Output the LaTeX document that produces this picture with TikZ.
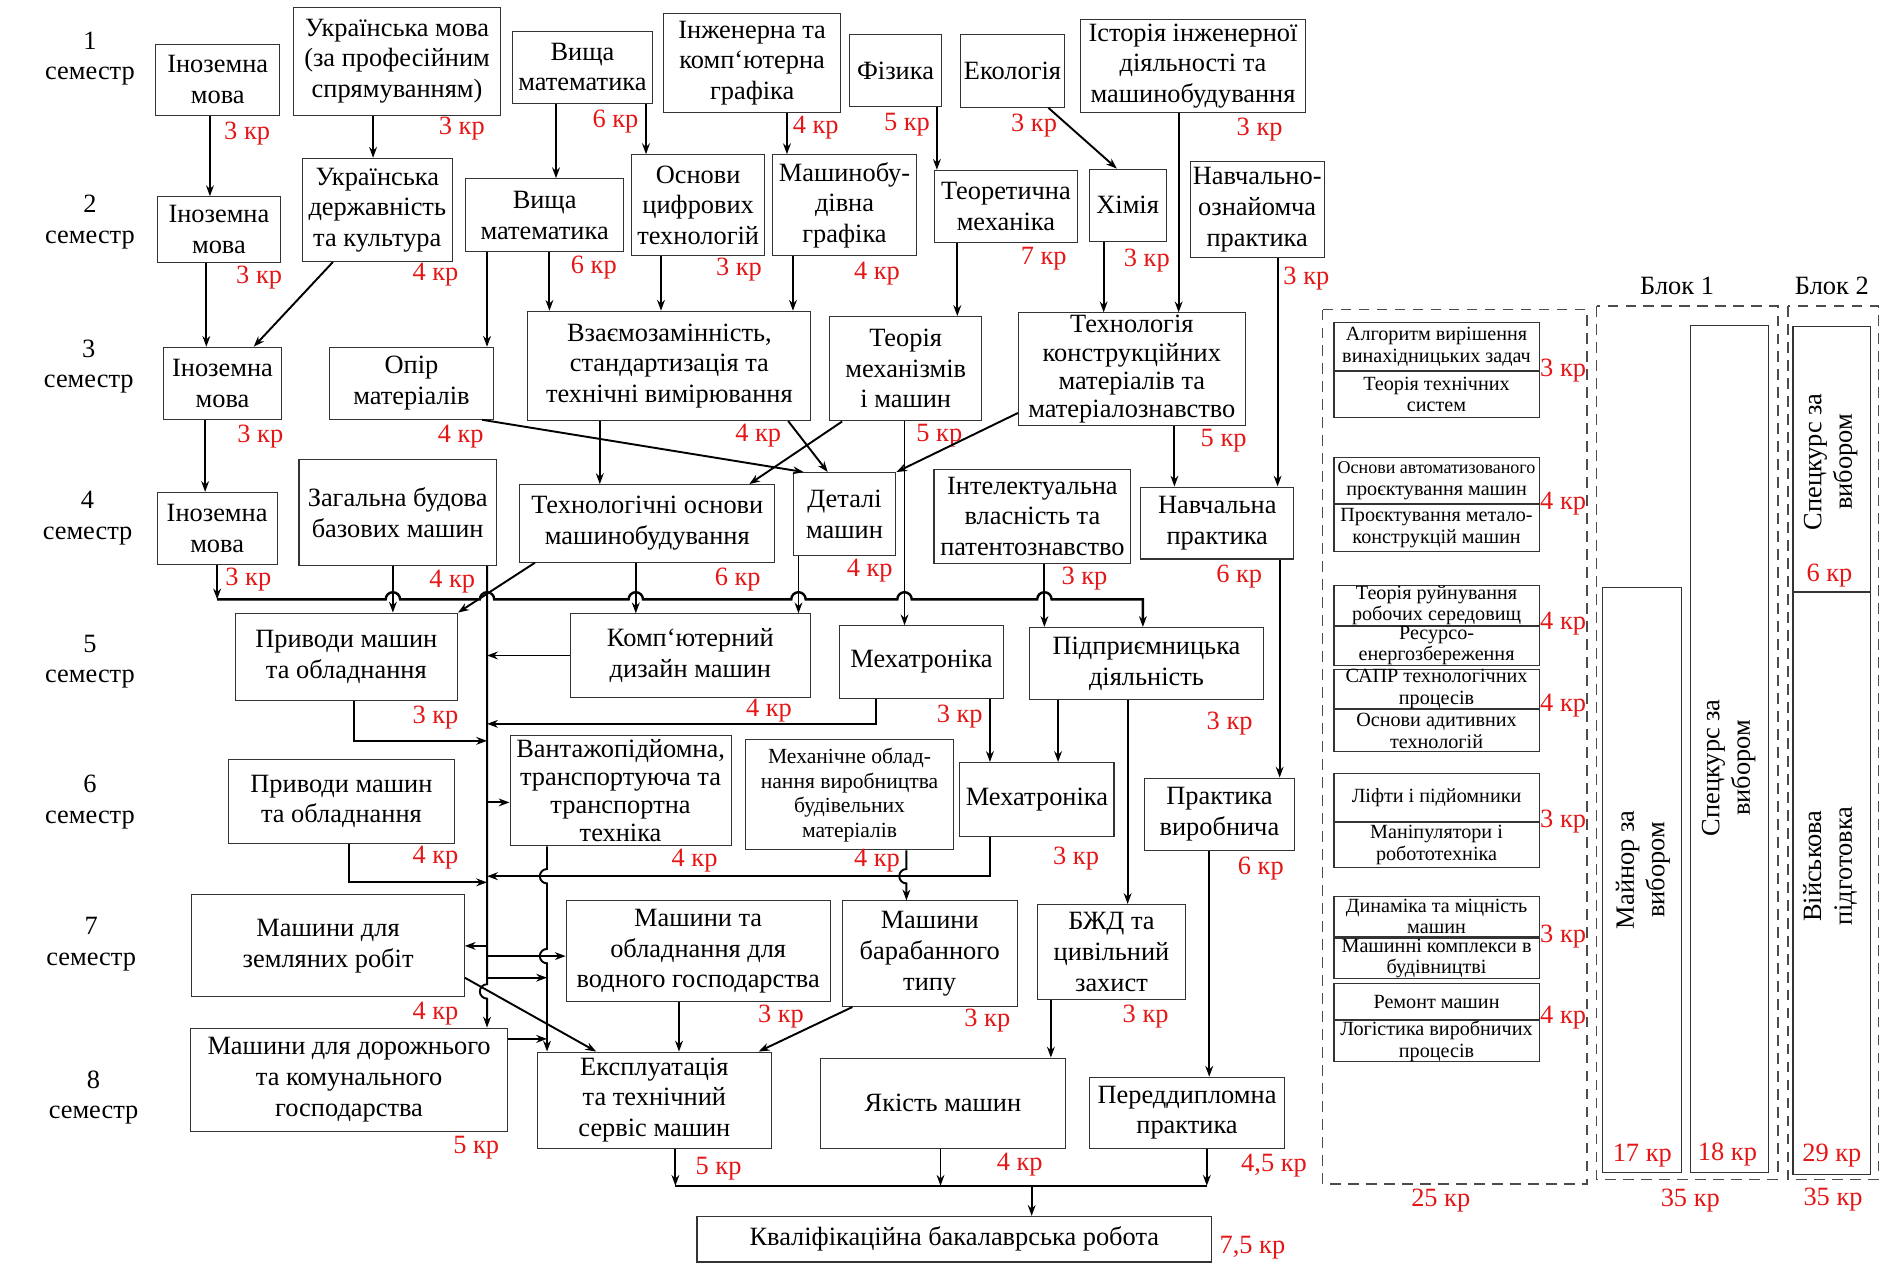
\documentclass[tikz,border=0pt]{standalone}
\usepackage{fontspec}
\setmainfont{Liberation Serif}
\usepackage{xcolor}
\usetikzlibrary{positioning,arrows.meta,calc}
\definecolor{krred}{RGB}{228,22,22}

\begin{document}
\begin{tikzpicture}[x=1pt, y=-1pt, >={Stealth[length=9pt,width=6.5pt]},
  font=\fontsize{22}{25.5}\selectfont,
  subj/.style={draw=black!80, line width=0.9pt, align=center, inner sep=0pt},
  elec/.style={draw=black!80, line width=0.9pt, align=center, inner sep=0pt, minimum width=171, font=\fontsize{16.8}{18}\selectfont},
  kr/.style={text=krred, inner sep=0pt},
  sem/.style={align=center, inner sep=0pt},
  link/.style={->, line width=1.6pt},
  bus/.style={line width=2pt},
  blk/.style={draw=black!70, line width=1.1pt, dash pattern=on 9pt off 6pt}]
\useasboundingbox (0,0) rectangle (1568,1053);

% semesters
\foreach \s/\x/\y in {1/75/49, 2/75/185, 3/74/305.5, 4/73/432, 5/75/551.5, 6/75/668.6, 7/76/787, 8/78/915}
  \node[sem] (s\s) at (\x,\y) {\s\\семестр};

% subjects: name/x/y/width/height/text
\foreach \n/\x/\y/\w/\h/\txt in {in1/181.5/66.5/103/59/{Іноземна\\мова},
  ukrm/331/51/172/90/{Українська мова\\(за професійним\\спрямуванням)},
  vm1/485.5/56/117/60/{Вища\\математика},
  graf/627/52.5/148/82/{Інженерна та\\комп`ютерна\\графіка},
  phys/746.5/59/77/60/{Фізика},
  ekol/844/59/87/61/{Екологія},
  hist/994.5/55/188/77/{Історія інженерної\\діяльності та\\машинобудування},
  in2/182.5/191.5/103/55/{Іноземна\\мова},
  ukrd/314.5/175/125/86/{Українська\\державність\\та культура},
  vm2/454/179.5/132/61/{Вища\\математика},
  osn/582/171/111/84/{Основи\\цифрових\\технологій},
  mgraf/704/171/120/84/{Машинобу-\\дівна\\графіка},
  teor/838.5/172/119/60/{Теоретична\\механіка},
  chem/940/171/64/60/{Хімія},
  navoz/1048/174.7/111.5/80/{Навчально-\\ознайомча\\практика},
  in3/185.5/319.5/99/60/{Іноземна\\мова},
  opir/343/319.5/136/60/{Опір\\матеріалів},
  vzaem/558/305/236/91/{Взаємозамінність,\\стандартизація та\\технічні вимірювання},
  tmm/755/307.4/127/87/{Теорія\\механізмів\\і машин},
  in4/181/440.5/100/60/{Іноземна\\мова},
  zag/331.5/427.4/164.5/88/{Загальна будова\\базових машин},
  tosn/539.6/436.3/212.4/64.6/{Технологічні основи\\машинобудування},
  det/704/428.6/85.5/69.3/{Деталі\\машин},
  intel/860.6/430.2/164/78.4/{Інтелектуальна\\власність та\\патентознавство},
  navp/1014.7/436/127.4/60/{Навчальна\\практика},
  pr5/288.7/547.6/185.3/73/{Приводи машин\\та обладнання},
  komp/575.5/546.4/200/69.4/{Комп`ютерний\\дизайн машин},
  mech5/768.2/551.8/137/60.3/{Мехатроніка},
  pidpr/955.7/553.2/194.6/60.3/{Підприємницька\\діяльність},
  pr6/284.6/667.9/188.2/70.3/{Приводи машин\\та обладнання},
  mech6/864.4/666.3/128.4/61.3/{Мехатроніка},
  prv/1016.5/678.8/125.4/60.4/{Практика\\виробнича},
  zeml/273.5/788.5/227/85/{Машини для\\земляних робіт},
  vodn/582/793/220/84/{Машини та\\обладнання для\\водного господарства},
  barab/775/795/146/88/{Машини\\барабанного\\типу},
  bzd/926.5/793.5/123/79/{БЖД та\\цивільний\\захист},
  dor/291/900/264/86/{Машини для дорожнього\\та комунального\\господарства},
  expl/545.5/917/195/80/{Експлуатація\\та технічний\\сервіс машин},
  yak/786/919.5/204/75/{Якість машин},
  pered/989.5/927.5/163/59/{Переддипломна\\практика},
  kval/795.5/1033/429/38/{Кваліфікаційна бакалаврська робота}}
  \node[subj, minimum width=\w, minimum height=\h] (\n) at (\x,\y) {\txt};
\node[subj, minimum width=189, minimum height=94, font=\fontsize{22}{23.5}\selectfont] (tkm) at (943.5,307.8) {Технологія\\конструкційних\\матеріалів та\\матеріалознавство};
\node[subj, minimum width=184.2, minimum height=92.3, font=\fontsize{22}{23.5}\selectfont] (vant) at (517.3,658.9) {Вантажопідйомна,\\транспортуюча та\\транспортна\\техніка};
\node[subj, minimum width=173, minimum height=91.6, font=\fontsize{18}{20.5}\selectfont] (mecho) at (708.2,662.6) {Механічне облад-\\нання виробництва\\будівельних\\матеріалів};

% elective pairs
\foreach \ya/\yd/\yb/\ta/\tb [count=\i] in {269/309/347/{Алгоритм вирішення\\винахідницьких задач}/{Теорія технічних\\систем},
  381/420/459/{{\fontsize{15}{17}\selectfont Основи автоматизованого}\\проєктування машин}/{Проєктування метало-\\конструкцій машин},
  488/521/553/{Теорія руйнування\\робочих середовищ}/{Ресурсо-\\енергозбереження},
  559/590/625/{САПР технологічних\\процесів}/{Основи адитивних\\технологій},
  645/685/722/{Ліфти і підйомники}/{Маніпулятори і\\робототехніка},
  747/781/815/{Динаміка та міцність\\машин}/{Машинні комплекси в\\будівництві},
  820/850/884/{Ремонт машин}/{Логістика виробничих\\процесів}}{
  \node[elec, minimum height={\yd-\ya}] (et\i) at (1197.5,{(\ya+\yd)/2}) {\ta};
  \node[elec, minimum height={\yb-\yd}, below=0pt of et\i] (eb\i) {\tb};
}

% blocks
\draw[blk] (1102.5,258) rectangle (1323,987);
\draw[blk] (1331,255) rectangle (1482,983);
\draw[blk] (1490.5,255) rectangle (1566,983);
\node[sem] (bl1) at (1398,238) {Блок 1};
\node[sem] (bl2) at (1527,238) {Блок 2};
\node[subj, minimum width=66, minimum height=487] (mai) at (1369,733.5) {};
\node[subj, minimum width=65, minimum height=706] (sp1) at (1441.5,624) {};
\node[subj, minimum width=64.4, minimum height=220.5] (sp2) at (1526.8,382.75) {};
\node[subj, minimum width=64.4, minimum height=485, below=0pt of sp2] (vp) {};
\node[sem, rotate=90] (maiT) at (1369.5,725) {Майнор за\\вибором};
\node[sem, rotate=90] (sp1T) at (1441,640) {Спецкурс за\\вибором};
\node[sem, rotate=90] (sp2T) at (1526,385) {Спецкурс за\\вибором};
\node[sem, rotate=90] (vpT) at (1525.5,722) {Військова\\підготовка};

% credits
\foreach \x/\y/\c [count=\i] in {206/111/3, 385/107/3, 513/101/6, 680/106/4, 756/104/5, 862/105/3, 1050/108/3,
  216/231/3, 363/229/4, 495/223/6, 616/225/3, 731/228/4, 870/216/7, 956/217/3, 1089/232/3,
  217/364/3, 384/364/4, 632/363/4, 783/363/5, 1020/367/5,
  207/483/3, 377/485/4, 615/483/6, 725/476/4, 904/482/3, 1033/481/6,
  363/598/3, 641/592/4, 800/597/3, 1025/603/3,
  363/715/4, 579/717/4, 731/717/4, 897/716/3, 1051/724/6,
  363/845/4, 651/847/3, 823/851/3, 955/847/3,
  397/957/5, 599/974/5, 850/971/4, 1062/972/{4,5}, 1044/1040/{7,5},
  1303/309/3, 1303/420/4, 1303/520/4, 1303/588/4, 1303/685/3, 1303/781/3, 1303/848/4,
  1369/963/17, 1440/962/18, 1525/480/6, 1527/963/29,
  1201/1001/25, 1409/1001/35, 1528/1000/35}
  \node[kr] (k\i) at (\x,\y) {\c\ кр};

% straight links: from/to/x offset
\foreach \a/\b/\d in {in1/in2/-6.5, ukrm/ukrd/-20, vm1/vm2/-22, vm1/osn/53, graf/mgraf/29, phys/teor/34.5,
  hist/tkm/-12, in2/in3/-10.5, vm2/opir/-48, vm2/vzaem/4, osn/vzaem/-31, mgraf/vzaem/-43, teor/tmm/-40.5,
  chem/tkm/-20, navoz/navp/17, in3/in4/-14.5, vzaem/tosn/-58, tkm/navp/35.5, navp/prv/52,
  zag/pr5/-4, tosn/komp/-9.6, det/komp/-38.4, tmm/mech5/-1, intel/pidpr/10,
  mech5/mech6/57, pidpr/mech6/-73.7, pidpr/bzd/-15.7, vodn/expl/-16, bzd/yak/-50.5, prv/pered/-8.5}{
  \path ([xshift=\d pt]\a.south) coordinate (t);
  \draw[link] (t) -- (t |- \b.north);
}

% diagonal links
\draw[link] ([xshift=-37pt]ukrd.south) -- ([xshift=26pt]in3.north);
\draw[link] ([xshift=30pt]ekol.south) -- ([xshift=-9pt]chem.north);
\draw[link] ([xshift=59pt]opir.south) -- ([xshift=-34pt]det.north);
\draw[link] ([xshift=99pt]vzaem.south) -- ([xshift=-14pt]det.north);
\draw[link] ([xshift=-53pt]tmm.south) -- ([xshift=85pt]tosn.north);
\draw[link] ([yshift=11pt]tkm.south west) -- (det.north east);
\draw[link] ([xshift=13pt]tosn.south west) -- (pr5.north east);
\draw[link] ([yshift=-26.5pt]zeml.east) -- ([xshift=-48.5pt]expl.north);
\draw[link] ([xshift=9pt]barab.south west) -- ([xshift=-11pt]expl.north east);

% bus under semester 4
\coordinate (b5) at ([yshift=-28.7pt]in4.south);
\coordinate (vzag) at ([xshift=-4pt]zag.south);
\coordinate (tr) at ([xshift=74.5pt]zag.south);
\coordinate (vtosn) at ([xshift=-9.6pt]tosn.south);
\coordinate (vdet) at ([xshift=-38.4pt]det.south);
\coordinate (vtmm) at ([xshift=-1pt]tmm.south);
\coordinate (vint) at ([xshift=10pt]intel.south);
\coordinate (pend) at ([xshift=-3pt]pidpr.north);
\draw[link] (in4.south) -- (b5);
\draw[bus,->] (b5) -- ($(vzag |- b5)+(-6,0)$) arc (180:360:6) -- ($(tr |- b5)+(-6,0)$) arc (180:360:6)
  -- ($(vtosn |- b5)+(-6,0)$) arc (180:360:6) -- ($(vdet |- b5)+(-6,0)$) arc (180:360:6)
  -- ($(vtmm |- b5)+(-6,0)$) arc (180:360:6) -- ($(vint |- b5)+(-6,0)$) arc (180:360:6)
  -- (pend |- b5) -- (pend);

% trunk and its branches
\draw[link] (tr) -- ($(tr |- zeml.south)+(0,-11)$) arc (270:90:6) -- (tr |- dor.north);
\coordinate (p5l) at ([yshift=-33pt]pr5.south);
\coordinate (m5l) at ([yshift=-21pt]mech5.south);
\coordinate (p6l) at ([yshift=-32pt]pr6.south);
\coordinate (m6l) at ([yshift=-33pt]mech6.south);
\draw[link] (komp.west) -- (komp.west -| tr);
\draw[link] ([xshift=6.3pt]pr5.south) |- (p5l -| tr);
\draw[link] ([xshift=-38.2pt]mech5.south) |- (m5l -| tr);
\draw[link] ([xshift=6.4pt]pr6.south) |- (p6l -| tr);
\draw[link] ([xshift=-39.4pt]mech6.south) |- (m6l -| tr);
\coordinate (vl) at ([yshift=-10pt]vant.west);
\coordinate (vw) at ([yshift=-4pt]vodn.west);
\coordinate (vw2) at ([yshift=-22pt]vodn.west);
\coordinate (dl) at ([yshift=34pt]dor.east);
\coordinate (vv) at ([xshift=-61.3pt]vant.south);
\coordinate (mv) at ([xshift=47.4pt]mecho.south);
\draw[link] (vl -| tr) -- (vl);
\draw[link] (zeml.east -| tr) -- (zeml.east);
\draw[link] (vw -| tr) -- (vw);
\draw[link] (vw2 -| tr) -- (vw2 -| vv);
\draw[link] (dl) -- (dl -| vv);
\draw[link] (vv) -- ($(vv |- m6l)+(0,-6)$) arc (270:90:6) -- ($(vv |- vw)+(0,-6)$) arc (270:90:6) -- (vv |- expl.north);
\draw[link] (mv) -- ($(mv |- m6l)+(0,-6)$) arc (270:90:6) -- (mv |- barab.north);

% bus into the thesis
\coordinate (b8) at ([yshift=-31pt]expl.south);
\coordinate (e1) at ([xshift=17.5pt]expl.south);
\coordinate (e2) at ([xshift=-2pt]yak.south);
\coordinate (e3) at ([xshift=16.5pt]pered.south);
\coordinate (kq) at ([xshift=64.5pt]kval.north);
\draw[link] (e1) -- (e1 |- b8);
\draw[link] (e2) -- (e2 |- b8);
\draw[link] (e3) -- (e3 |- b8);
\draw[bus] (e1 |- b8) -- (e3 |- b8);
\draw[link] (kq |- b8) -- (kq);
\end{tikzpicture}
\end{document}
